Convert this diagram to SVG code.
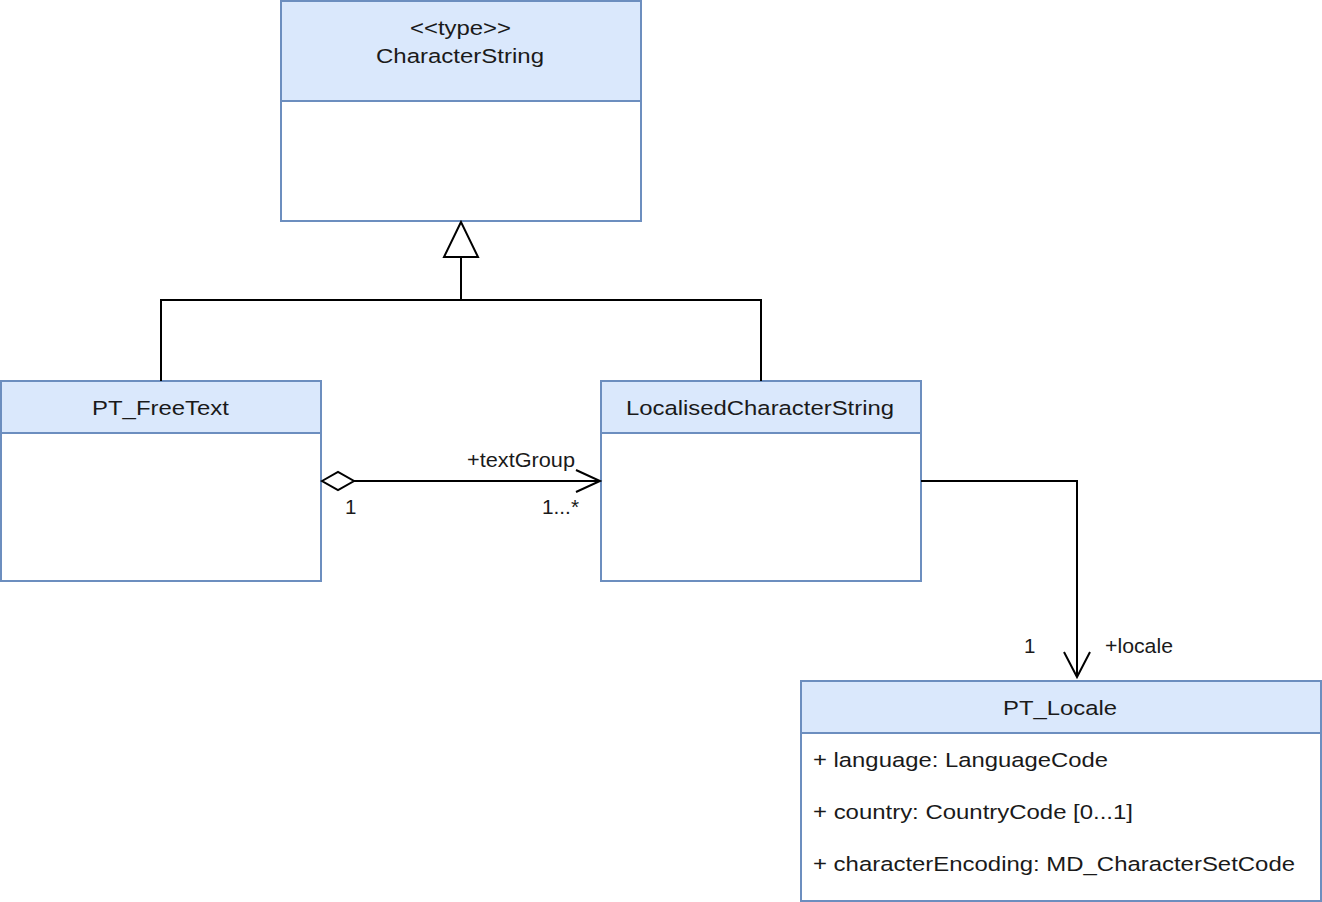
<svg xmlns="http://www.w3.org/2000/svg" width="1322" height="902" viewBox="0 0 1322 902">
<style>
.hdr{fill:#dae8fc;stroke:#6c8ebf;stroke-width:2}
.body{fill:#ffffff;stroke:#6c8ebf;stroke-width:2}
.t{font-family:"Liberation Sans",Arial,sans-serif;font-size:20.5px;fill:#1a1a1a}
.c{text-anchor:middle}
.ln{fill:none;stroke:#000;stroke-width:2}
</style>
<rect width="1322" height="902" fill="#ffffff"/>
<g id="CharacterString">
<rect class="body" x="281" y="1" width="360" height="220"/>
<rect class="hdr" x="281" y="1" width="360" height="100"/>
<text class="t c" x="460.5" y="35" textLength="101" lengthAdjust="spacingAndGlyphs">&lt;&lt;type&gt;&gt;</text>
<text class="t c" x="460" y="63" textLength="168" lengthAdjust="spacingAndGlyphs">CharacterString</text>
</g>
<g id="PT_FreeText">
<rect class="body" x="1" y="381" width="320" height="200"/>
<rect class="hdr" x="1" y="381" width="320" height="52"/>
<text class="t c" x="160.5" y="415" textLength="137" lengthAdjust="spacingAndGlyphs">PT_FreeText</text>
</g>
<g id="LocalisedCharacterString">
<rect class="body" x="601" y="381" width="320" height="200"/>
<rect class="hdr" x="601" y="381" width="320" height="52"/>
<text class="t c" x="760" y="415" textLength="268" lengthAdjust="spacingAndGlyphs">LocalisedCharacterString</text>
</g>
<g id="PT_Locale">
<rect class="body" x="801" y="681" width="520" height="220"/>
<rect class="hdr" x="801" y="681" width="520" height="52"/>
<text class="t c" x="1060" y="715" textLength="114" lengthAdjust="spacingAndGlyphs">PT_Locale</text>
<text class="t" x="813" y="767" textLength="295" lengthAdjust="spacingAndGlyphs">+ language: LanguageCode</text>
<text class="t" x="813" y="819" textLength="320" lengthAdjust="spacingAndGlyphs">+ country: CountryCode [0...1]</text>
<text class="t" x="813" y="871" textLength="482" lengthAdjust="spacingAndGlyphs">+ characterEncoding: MD_CharacterSetCode</text>
</g>
<g id="connectors">
<path class="ln" d="M161 381V300H761V381M461 300V257"/>
<path class="ln" d="M461 222L444 257H478Z" fill="#fff" style="fill:#fff"/>
<path class="ln" d="M354 481H600M576 470L600 481L576 492"/>
<path class="ln" d="M322 481L338 472L354 481L338 490Z" style="fill:#fff"/>
<path class="ln" d="M921 481H1077V677M1064 652L1077 677L1090 652"/>
<text class="t" x="467" y="467" textLength="108" lengthAdjust="spacingAndGlyphs">+textGroup</text>
<text class="t" x="345" y="514">1</text>
<text class="t" x="542" y="514" textLength="37" lengthAdjust="spacingAndGlyphs">1...*</text>
<text class="t" x="1024" y="653">1</text>
<text class="t" x="1105" y="653" textLength="68" lengthAdjust="spacingAndGlyphs">+locale</text>
</g>
</svg>
